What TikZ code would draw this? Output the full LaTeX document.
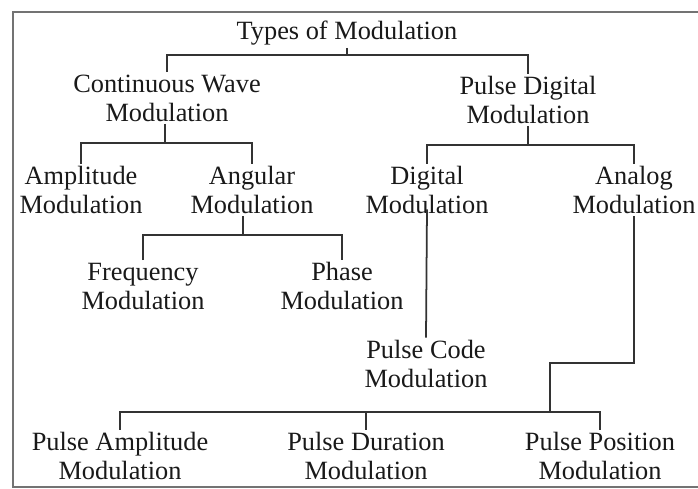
\documentclass[tikz,border=0pt]{standalone}
\usepackage{fontspec}
\setmainfont{Liberation Serif}
\begin{document}
\begin{tikzpicture}[x=0.02cm, y=-0.02cm, line width=1pt,
    every node/.style={align=center, inner sep=1pt, text=black!90,
        font=\fontsize{15}{16.5}\selectfont}]
    \useasboundingbox (0,0) rectangle (698,488);
    % Frame
    \draw [black!55, line width=1.5pt] (698,12) -- (13,12) -- (13,487) -- (698,487);

    % Nodes
    \node (types) at (347,33) {Types of Modulation};
    \node (cw) at (167,98) {Continuous Wave\\Modulation};
    \node (pdm) at (528,100) {Pulse Digital\\Modulation};
    \node (am) at (81,190) {Amplitude\\Modulation};
    \node (ang) at (252,190) {Angular\\Modulation};
    \node (dig) at (427,190) {Digital\\Modulation};
    \node (ana) at (634,190) {Analog\\Modulation};
    \node (fm) at (143,286) {Frequency\\Modulation};
    \node (pm) at (342,286) {Phase\\Modulation};
    \node (pcm) at (426,364) {Pulse Code\\Modulation};
    \node (pam) at (120,456) {Pulse Amplitude\\Modulation};
    \node (pdum) at (366,456) {Pulse Duration\\Modulation};
    \node (ppm) at (600,456) {Pulse Position\\Modulation};

    % Branch points
    \coordinate (t1) at (347,55);
    \coordinate (c1) at (165,143);
    \coordinate (a1) at (243,235);
    \coordinate (p1) at (528,145);
    \coordinate (b2) at (550,363);
    \coordinate (b1) at (550,412);

    % Connectors
    \draw [black!80] (types.south) -- (t1);
    \draw [black!80] (cw.north) |- (t1) -| (pdm.north);
    \draw [black!80] (cw.south -| c1) -- (c1);
    \draw [black!80] (am.north) |- (c1) -| (ang.north);
    \draw [black!80] (ang.south -| a1) -- (a1);
    \draw [black!80] (fm.north) |- (a1) -| (pm.north);
    \draw [black!80] (pdm.south) -- (p1);
    \draw [black!80] (dig.north) |- (p1) -| (ana.north);
    \draw [black!80] ([yshift=4pt]dig.south) -- (pcm.north);
    \draw [black!80] (ana.south) |- (b2) -- (b1);
    \draw [black!80] (pam.north) |- (b1) -| (ppm.north);
    \draw [black!80] (pdum.north) -- (pdum.north |- b1);
\end{tikzpicture}
\end{document}
